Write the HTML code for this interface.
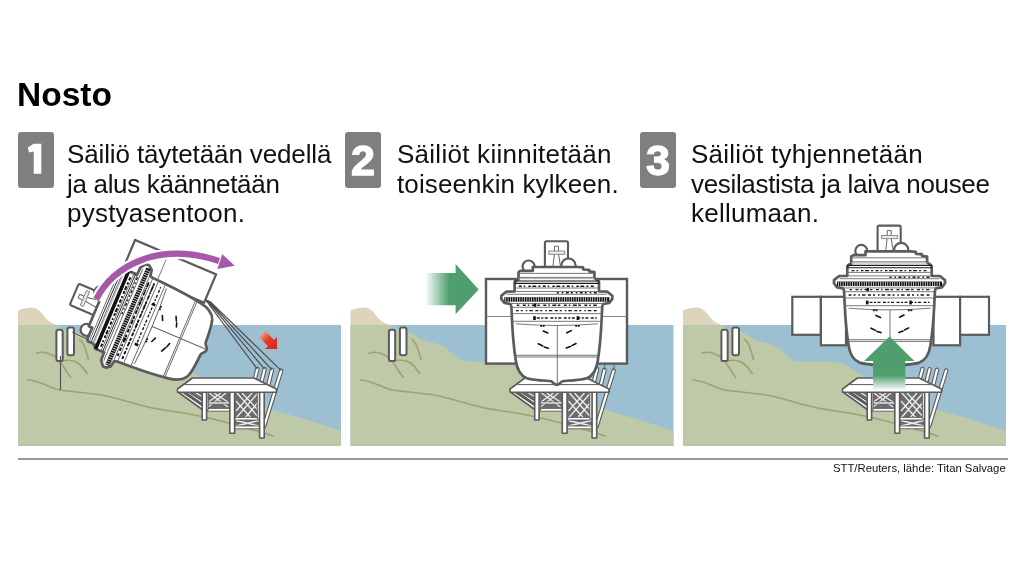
<!DOCTYPE html>
<html><head><meta charset="utf-8">
<style>
html,body{margin:0;padding:0;background:#fff;}
body{width:1024px;height:576px;position:relative;overflow:hidden;font-family:"Liberation Sans",sans-serif;color:#111;}
.t{position:absolute;white-space:nowrap;}
.t,.txt,#cap,.box{will-change:transform;}
#title{left:17.3px;top:76px;font-size:33.5px;font-weight:bold;color:#000;}
.box{position:absolute;top:132px;width:36px;height:56px;background:#7f7f7f;border-radius:3px;color:#fff;font-weight:bold;font-size:43px;text-align:center;line-height:56.5px;-webkit-text-stroke:1.3px #fff;}
.txt{position:absolute;font-size:26px;line-height:29.7px;top:139.7px;white-space:nowrap;color:#111;}
#cap{position:absolute;left:833.2px;top:461.5px;font-size:11.3px;color:#111;white-space:nowrap;}
#rule{position:absolute;left:18px;top:458.4px;width:989.5px;height:1.5px;background:#9a9a9a;}
svg{position:absolute;left:0;top:0;}
</style></head>
<body>
<div id="title" class="t">Nosto</div>
<div class="box" style="left:18px"></div>
<div class="box" style="left:345px">2</div>
<div class="box" style="left:640px">3</div>
<div class="txt" style="left:67px"><span style="letter-spacing:-0.13px">Säiliö täytetään vedellä</span><br><span style="letter-spacing:-0.32px">ja alus käännetään</span><br><span style="letter-spacing:0.23px">pystyasentoon.</span></div>
<div class="txt" style="left:397px"><span style="letter-spacing:0.26px">Säiliöt kiinnitetään</span><br><span style="letter-spacing:0.11px">toiseenkin kylkeen.</span></div>
<div class="txt" style="left:691px"><span style="letter-spacing:0.25px">Säiliöt tyhjennetään</span><br><span style="letter-spacing:-0.33px">vesilastista ja laiva nousee</span><br><span style="letter-spacing:0.24px">kellumaan.</span></div>
<svg width="1024" height="576" viewBox="0 0 1024 576">
<defs>
<g id="land">
<rect x="0" y="18" width="323" height="120.5" fill="#9cc0d1"/>
<path d="M0,3.5 C4,2 9,0.5 14,0.6 C19,0.8 22,4 26,9 C30,14.5 35,17 40.5,18.2 L40.5,18.5 L0,18.5 Z" fill="#ded4bc"/>
<path d="M0,18 L39.5,18 C40,19.5 41,21.5 46,22.5 C51,23 54,22.6 57,24 C62,26.5 66,30 71,32.5 C77,35 86,36 92,38.5 C98,42 101,47 107,51.2 C111,53.8 114,54.4 120,54.4 L138,54.4 C146,54.6 152,55 158,56 C162,57 165,59 168,61 C172,64 176,66.5 181,69 C198,78 225,92 256,103.2 C275,108.8 300,115.6 323,124 L323,138.5 L0,138.5 Z" fill="#bdc9a7"/>
<rect x="0" y="137.2" width="323" height="1.3" fill="#b6bca2"/>
<g fill="none" stroke="#a39f6f" stroke-width="1.6" stroke-linecap="round">
<path d="M18.5,46.2 C23,44.5 30,45 37.5,50 C41,53 44,57 47,62 C49,65.5 51,68 52.7,70.3"/>
<path d="M45.1,53.8 C50,52.8 56,53.2 60,56 C64,59 67,63 69.2,66.5"/>
<path d="M61.6,32.3 C64,34.5 66.5,38 67.9,43.7 C69,47 70,50 70.4,52.5"/>
<path d="M9.6,72.8 C16,73.5 22,75.5 28,78 C34,80.5 38,82.5 45,83.5 C55,84.8 70,86 83,88 C95,90 106,93.5 118,97 C130,100.5 140,102.5 152,104 C165,105.5 180,108.5 195,112 C215,117 235,122.5 255,129"/>
</g>
<g fill="#fff" stroke="#5b5b5b" stroke-width="2">
<rect x="38.4" y="22.8" width="6.3" height="31.3" rx="2.2"/>
<rect x="49.4" y="20.6" width="6.6" height="27.6" rx="2.2"/>
</g>
</g>
<g id="plat">
<g stroke="#5b5b5b" stroke-width="1.6" stroke-linejoin="round">
<!-- back dark bracing area -->
<path d="M162,85 L246,85 L246,121.5 L214,121.5 L214,104 L188.6,104 L186,102.5 Z" fill="#6c6c6c" stroke="none"/>
<g stroke="#eeeeee" stroke-width="1.3" fill="none">
<path d="M165,86 L186,99.5 M172,86 L187,95 M178,86 L187,91"/>
<path d="M191,86 L210,100 M208,86 L190,100 M196,86 L213,97 M203,86 L189,96"/>
<path d="M219,86 L241,111 M240,86 L218,111 M224,86 L241,104 M218,94 L233,111 M234,86 L218,104 M241,94 L227,111"/>
<path d="M218,113.5 L241,119 M241,113.5 L218,119"/>
</g>
<!-- posts (slanted) -->
<g fill="none" stroke-linecap="round">
<path d="M239.4,62 L236.4,73.5 M246.6,62.2 L243.4,75 M254,62.8 L250.4,77.5 M263.2,63.6 L246.2,119" stroke="#5b5b5b" stroke-width="4.4"/>
<path d="M239.4,62 L236.4,73.5 M246.6,62.2 L243.4,75 M254,62.8 L250.4,77.5 M263.2,63.6 L246.2,119" stroke="#fff" stroke-width="2.2"/>
</g>
<!-- left diagonal struts -->
<path d="M160,85 L163,84 L188,101 L187,104.5 Z" fill="#fff"/>
<path d="M167,85 L170,84.5 L188,96 L187,99 Z" fill="#fff"/>
<!-- horizontal beams -->
<rect x="186" y="101.4" width="28" height="2.8" fill="#fff" stroke-width="0.9"/>
<rect x="188" y="95" width="24" height="2" fill="#fff" stroke-width="0.7"/>
<rect x="214" y="110.4" width="30" height="2.6" fill="#fff" stroke-width="0.9"/>
<rect x="214" y="119" width="30" height="2.8" fill="#fff" stroke-width="0.9"/>
<!-- back legs -->
<rect x="187.8" y="84" width="2.4" height="19" fill="#fff" stroke-width="1"/>
<rect x="239.3" y="84" width="2.4" height="28" fill="#fff" stroke-width="1"/>
<!-- legs -->
<rect x="184.2" y="84" width="4.4" height="29" fill="#fff"/>
<rect x="211.8" y="84" width="4.8" height="42.2" fill="#fff"/>
<rect x="241.6" y="84" width="4.6" height="47" fill="#fff"/>
<!-- deck -->
<path d="M174.4,71 L236,71 L258.5,82 L258.5,85.2 L159.5,85.2 L159.5,82 Z" fill="#fff"/>
<path d="M167,77.6 L248,77.6" fill="none" stroke-width="1"/>
</g>
</g>
<g id="ship">
<!-- funnel -->
<rect x="-11.9" y="-56.8" width="23.1" height="26" rx="1.6" fill="#fff" stroke="#5b5b5b" stroke-width="2.1"/>
<g stroke="#555" stroke-width="0.9" fill="none">
<path d="M-2.3,-51.8 L1.7,-51.8 L1.7,-47 M-2.3,-51.8 L-2.3,-47"/>
<path d="M-2.4,-43.6 L-3.8,-32 M1.8,-43.6 L3.6,-32"/>
</g>
<rect x="-8" y="-47" width="16" height="3.3" fill="#e8e8e8" stroke="#777" stroke-width="0.8"/>
<circle cx="-28.2" cy="-31.5" r="6" fill="#fff" stroke="#5b5b5b" stroke-width="2.2"/>
<circle cx="11.7" cy="-32.4" r="7.1" fill="#fff" stroke="#5b5b5b" stroke-width="2.2"/>
<path d="M-24.0,-31.0 L-24.0,-27.2 L-36.5,-27.2 L-38.3,-25.8 L-38.3,-18.6 L-40.3,-18.0 L-42.2,-16.0 L-42.2,-6.6 L-50.3,-6.4 L-55.5,-2.3 L-55.5,0.9 L-52.4,5.0 L-46.2,6.0 L-45.4,9.0 L-44.8,22 C-44.2,35 -43,50 -41,62.5 C-39.8,71 -37,77.5 -30,80.2 C-22,82.6 -11,82.6 -6.5,83 C-3.5,83.4 -3.5,86.8 0,86.8 C3.5,86.8 3.5,83.4 6.5,83 C11,82.6 22,82.6 30,80.2 C37,77.5 39.8,71 41,62.5 C43,50 44.2,35 44.8,22 L45.4,9.0 L46.2,6.0 L52.4,5.0 L55.5,0.9 L55.5,-2.3 L50.3,-6.4 L42.2,-6.6 L42.2,-16.3 L40.3,-18.2 L37.6,-19.8 L37.6,-25.8 L32.5,-26.6 L32.2,-28.2 L26.5,-28.5 L26.2,-30.6 L21.0,-31.0 Z" fill="#fff" stroke="#5b5b5b" stroke-width="2.7" stroke-linejoin="round"/>
<g stroke="#6a6a6a" stroke-width="0.9" fill="none">
<path d="M-36.5,-24.6 L37.6,-24.6 M-38.3,-20.6 L37.6,-20.6 M-42,-10 L42,-10 M-42,-6.5 L42,-6.5 M-50,-3.7 L50,-3.7"/>
<path d="M-38.3,-19.4 L38,-19.4" stroke="#aaa"/>
<path d="M-45,5.5 L45,5.5 M-45,9.3 L45,9.3 M-45,15.6 L45,15.6 M-45,23.3 L45,23.3"/>
<path d="M-42,57.3 L42,57.3 M-42,59 L42,59" stroke="#666"/>
<path d="M0.5,27 L0.5,86.5" stroke="#666"/>
<path d="M-41,25.8 Q0,29.2 41,25.8"/>
</g>
<path d="M-42.6,-17 L42.6,-17 M-42.6,-14.6 L42.6,-14.6" stroke="#1a1a1a" stroke-width="1.1"/>
<g stroke="#1a1a1a" stroke-width="1.4" fill="none">
<path d="M-38,-11.8 L38,-11.8" stroke-dasharray="3 2 1.5 3 2.5 1.5 4 2 2 2.5"/>
<path d="M0,-5.2 L40,-5.2" stroke-dasharray="2 3 1.5 2.5 3 2"/>
<path d="M-40,7.2 L40,7.2" stroke-dasharray="2.5 3.5 3 2 1.5 2.5 4 1.5"/>
<path d="M-41,12.6 L41,12.6" stroke-dasharray="3 2 2 3 1.5 2 3.5 2.5"/>
<path d="M-20,20 L40,20" stroke-dasharray="3 1.5 2 1.5 3 2.5"/>
</g>
<rect x="-52.5" y="-0.9" width="105" height="4.6" fill="#111"/>
<path d="M-51.5,1.4 L51.5,1.4" stroke="#fff" stroke-width="4.6" stroke-dasharray="0.8 1.55" opacity="0.85"/>
<rect x="-23.6" y="18.2" width="2.6" height="3.8" fill="#111"/>
<rect x="19.8" y="18.2" width="2.6" height="3.8" fill="#111"/>
<rect x="-23" y="5.6" width="2.4" height="3.2" fill="#111"/>
<g fill="#111">
<rect x="-16.5" y="27" width="1.8" height="1.8"/><rect x="-14" y="27" width="1.8" height="1.8"/>
<rect x="18.5" y="27" width="1.8" height="1.8"/><rect x="21" y="27" width="1.8" height="1.8"/>
</g>
<g stroke="#111" stroke-width="1.6" stroke-linecap="round">
<path d="M-13.5,33 L-9,35"/><path d="M10,34.8 L14.5,32.6"/>
<path d="M-18.5,45.8 L-14,48 M-12.5,49 L-8.5,50.2"/><path d="M9.5,50 L13.5,48.6 M15,47.6 L19.2,45.5"/>
</g>
</g>
<linearGradient id="gH" x1="0" x2="1" y1="0" y2="0">
<stop offset="0" stop-color="#4f9f6e" stop-opacity="0"/>
<stop offset="0.45" stop-color="#4f9f6e" stop-opacity="1"/>
<stop offset="1" stop-color="#4f9f6e"/>
</linearGradient>
<linearGradient id="gV" x1="0" x2="0" y1="0" y2="1">
<stop offset="0" stop-color="#4f9f6e"/>
<stop offset="0.71" stop-color="#4f9f6e"/>
<stop offset="1" stop-color="#ffffff"/>
</linearGradient>
<linearGradient id="gR" gradientUnits="userSpaceOnUse" x1="-21" x2="0" y1="0" y2="0">
<stop offset="0" stop-color="#ef9a7c"/>
<stop offset="0.35" stop-color="#e5402a"/>
<stop offset="1" stop-color="#dc1f1a"/>
</linearGradient>
</defs>
<path d="M33.7,143.8 L41.3,143.8 L41.3,173.8 L33.7,173.8 L33.7,151.6 L29,152.4 L27.8,147.6 Z" fill="#fff"/>
<!-- PANEL 1 -->
<g transform="translate(18,307)"><use href="#land"/></g>
<path d="M60.5,356 L60.5,390" stroke="#555" stroke-width="1.2"/>
<path d="M72,332 L97,344" stroke="#555" stroke-width="1"/>
<g transform="translate(18,307)"><use href="#plat"/></g>
<g stroke="#4f4f4f" stroke-width="1.2" fill="none">
<path d="M204.5,298.5 L257.4,369 M206.3,299.5 L264.6,369.2 M208.2,300.5 L272,369.8 M210,301.5 L281.2,370.6"/>
</g>
<g transform="translate(128.15,316.8) rotate(-67) translate(0,-1.6)">
<rect x="42.6" y="-22" width="30.8" height="88" fill="#fff" stroke="#5b5b5b" stroke-width="2.2"/>
<path d="M42.6,14.2 L73.4,14.2" stroke="#777" stroke-width="0.9"/>
<use href="#ship"/>
<g stroke="#111" fill="none">
<path d="M-42,-15.8 L42,-15.8" stroke-width="2.6"/>
<path d="M-37.5,-22.6 L37,-22.6 M-41.5,-8.3 L41.5,-8.3" stroke-width="0.8"/>
<path d="M-38,-11.8 L38,-11.8" stroke-width="1.8" stroke-dasharray="3 2 1.5 3 2.5 1.5 4 2 2 2.5"/>
<path d="M-40,7.2 L40,7.2 M-41,12.6 L41,12.6" stroke-width="1.8" stroke-dasharray="2.5 3 3 2 1.5 2.5 4 1.5"/>
</g>
</g>
<path d="M96.2,299.3 C112,268.5 155,240 219,261" fill="none" stroke="#fff" stroke-width="10.5"/>
<path d="M222.3,254.2 L234.8,265.7 L217.3,268.9 Z" fill="#fff" stroke="#fff" stroke-width="4" stroke-linejoin="round"/>
<path d="M96.2,299.3 C112,268.5 155,240 219,261" fill="none" stroke="#a659a8" stroke-width="6.3"/>
<path d="M222.3,254.2 L234.8,265.7 L217.3,268.9 Z" fill="#a659a8"/>
<g transform="translate(277,349) rotate(45)"><path d="M0,0 L-8.5,-8.5 L-8.5,-4.3 L-21,-4.3 L-21,4.3 L-8.5,4.3 L-8.5,8.5 Z" fill="url(#gR)"/></g>
<!-- PANEL 2 -->
<g transform="translate(350.5,307)"><use href="#land"/></g>
<g transform="translate(350.5,307)"><use href="#plat"/></g>
<g transform="translate(556.8,298)">
<rect x="-70.8" y="-19" width="141" height="84.6" fill="#fff" stroke="#5b5b5b" stroke-width="2.4"/>
<path d="M-70.8,18.5 L70.2,18.5" stroke="#777" stroke-width="0.9"/>
<g stroke="#5a5a5a" stroke-width="0.9"><path d="M48.2,65.6 L47.7,71.8 M57.5,65.6 L56.9,72.6"/></g>
<use href="#ship"/>
</g>
<path d="M425,273.1 L455.6,273.1 L455.6,264 L478.7,289.4 L455.6,314.3 L455.6,305.2 L425,305.2 Z" fill="url(#gH)"/>
<!-- PANEL 3 -->
<g transform="translate(683,307)"><use href="#land"/></g>
<g transform="translate(683,307)"><use href="#plat"/></g>
<g transform="translate(889.5,282.4)" stroke="#5b5b5b" stroke-width="2.2" fill="#fff">
<rect x="-97.2" y="14.4" width="28.6" height="38"/>
<rect x="-68.6" y="14.4" width="25.1" height="48.5"/>
<rect x="44" y="14.4" width="26.6" height="48.5"/>
<rect x="70.6" y="14.4" width="28.9" height="38"/>
<use href="#ship" stroke="none"/>
</g>
<path d="M873.1,390.7 L873.1,360.9 L864,360.9 L889.5,336.6 L914.4,360.9 L905.3,360.9 L905.3,390.7 Z" fill="url(#gV)"/>
</svg>
<div id="rule"></div>
<div id="cap">STT/Reuters, lähde: Titan Salvage</div>
</body></html>
